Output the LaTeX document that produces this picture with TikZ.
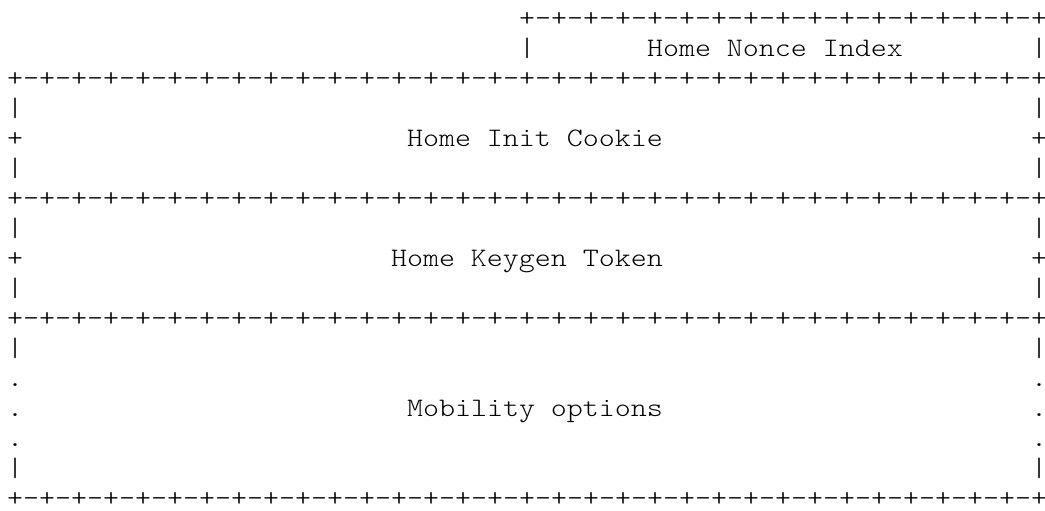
\documentclass[tikz,border=0pt]{standalone}
\usepackage{fontspec}
% a light typewriter face, widened so one character cell is 16pt
\newfontfamily\asciifont[FakeStretch=1.1428]{lmmonolt10-regular.otf}
% one text line is 30pt high
\tikzset{
  asc/.style={inner sep=0pt, outer sep=0pt, anchor=base west,
    font=\asciifont\fontsize{26.67}{30}\selectfont, text=black},
}
\def\rulequad{+-+-+-+-}
\def\longrule{\rulequad\rulequad\rulequad\rulequad\rulequad\rulequad\rulequad\rulequad+}
\def\shortrule{\rulequad\rulequad\rulequad\rulequad+}
\begin{document}
\begin{tikzpicture}[x=1pt,y=1pt]
  \useasboundingbox (0,0) rectangle (1045,511);
  % column c starts at x = 7+16c, line n has its baseline at y = 484-30(n-1)

  % Home Nonce Index (upper half-word)
  \node[asc] (top)    at ({7+16*32},{484-30*0}) {\shortrule};
  \node[asc] (nonceL) at ({7+16*32},{484-30*1}) {|};
  \node[asc] (nonceR) at ({7+16*64},{484-30*1}) {|};
  \node[asc] (nonce)  at ({7+16*40},{484-30*1}) {Home Nonce Index};
  \node[asc] (sepA)   at ({7},{484-30*2}) {\longrule};

  % Home Init Cookie
  \node[asc] (ckL1) at ({7},{484-30*3}) {|};
  \node[asc] (ckR1) at ({7+16*64},{484-30*3}) {|};
  \node[asc] (ckL2) at ({7},{484-30*4}) {+};
  \node[asc] (ckR2) at ({7+16*64},{484-30*4}) {+};
  \node[asc] (cookie) at ({7+16*25},{484-30*4}) {Home Init Cookie};
  \node[asc] (ckL3) at ({7},{484-30*5}) {|};
  \node[asc] (ckR3) at ({7+16*64},{484-30*5}) {|};
  \node[asc] (sepB) at ({7},{484-30*6}) {\longrule};

  % Home Keygen Token
  \node[asc] (tkL1) at ({7},{484-30*7}) {|};
  \node[asc] (tkR1) at ({7+16*64},{484-30*7}) {|};
  \node[asc] (tkL2) at ({7},{484-30*8}) {+};
  \node[asc] (tkR2) at ({7+16*64},{484-30*8}) {+};
  \node[asc] (token) at ({7+16*24},{484-30*8}) {Home Keygen Token};
  \node[asc] (tkL3) at ({7},{484-30*9}) {|};
  \node[asc] (tkR3) at ({7+16*64},{484-30*9}) {|};
  \node[asc] (sepC) at ({7},{484-30*10}) {\longrule};

  % Mobility options (variable length)
  \node[asc] (moL1) at ({7},{484-30*11}) {|};
  \node[asc] (moR1) at ({7+16*64},{484-30*11}) {|};
  \foreach \n in {12,13,14}{
    \node[asc] (dotL\n) at ({7},{484-30*\n}) {.};
    \node[asc] (dotR\n) at ({7+16*64},{484-30*\n}) {.};
  }
  \node[asc] (mobility) at ({7+16*25},{484-30*13}) {Mobility options};
  \node[asc] (moL2) at ({7},{484-30*15}) {|};
  \node[asc] (moR2) at ({7+16*64},{484-30*15}) {|};
  \node[asc] (bottom) at ({7},{484-30*16}) {\longrule};
\end{tikzpicture}
\end{document}
